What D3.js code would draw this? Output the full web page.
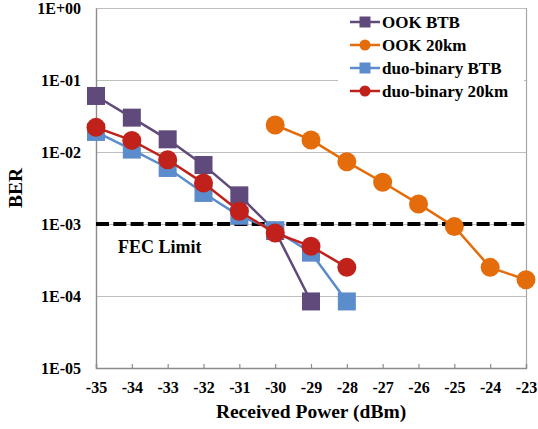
<!DOCTYPE html>
<html>
<head>
<meta charset="utf-8">
<script src="https://cdn.jsdelivr.net/npm/d3@7"></script>
<style>
  body { margin: 0; background: #fff; }
</style>
</head>
<body>
<svg width="538" height="429"></svg>
<script>
// data
var powers = [-35, -34, -33, -32, -31, -30, -29, -28, -27, -26, -25, -24, -23];
var ookBtbX = [-35, -34, -33, -32, -31, -30, -29];
var ookBtbY = [0.06, 0.03, 0.015, 0.0066, 0.0025, 0.0008, 8.4e-5];
var ook20X = [-30, -29, -28, -27, -26, -25, -24, -23];
var ook20Y = [0.0237, 0.0147, 0.0073, 0.0038, 0.0019, 0.00092, 0.00025, 0.000168];
var duoBtbX = [-35, -34, -33, -32, -31, -30, -29, -28];
var duoBtbY = [0.019, 0.0108, 0.006, 0.0027, 0.0013, 0.00082, 0.0004, 8.4e-5];
var duo20X = [-35, -34, -33, -32, -31, -30, -29, -28];
var duo20Y = [0.022, 0.0145, 0.0078, 0.0037, 0.0015, 0.00075, 0.00049, 0.00025];
var berTicks = [1, 1e-1, 1e-2, 1e-3, 1e-4, 1e-5];
var fecLimit = 1e-3;

var series = [
  {name: "OOK BTB", xs: ookBtbX, ys: ookBtbY, color: "#604a7b", shape: "square"},
  {name: "OOK 20km", xs: ook20X, ys: ook20Y, color: "#e46c0a", shape: "circle"},
  {name: "duo-binary BTB", xs: duoBtbX, ys: duoBtbY, color: "#5b8ccc", shape: "square"},
  {name: "duo-binary 20km", xs: duo20X, ys: duo20Y, color: "#c0221b", shape: "circle"}
];

var FONT = "'Liberation Serif', 'Times New Roman', serif";

var svg = d3.select("svg"),
    margin = {top: 8, right: 12, bottom: 61, left: 96},
    width = +svg.attr("width") - margin.left - margin.right,
    height = +svg.attr("height") - margin.top - margin.bottom;

var x = d3.scaleLinear().domain([-35, -23]).range([0, width]);
var y = d3.scaleLog().domain([1e-5, 1]).range([height, 0]);

var g = svg.append("g").attr("transform", "translate(" + margin.left + "," + margin.top + ")");

function fmt(v) {
  var e = Math.round(Math.log10(v));
  return "1E" + (e < 0 ? "-" : "+") + String(Math.abs(e)).padStart(2, "0");
}

// grid
g.selectAll(".grid").data(berTicks).enter().append("line")
    .attr("x1", 0).attr("x2", width)
    .attr("y1", function(d) { return Math.round(y(d)) + 0.5; })
    .attr("y2", function(d) { return Math.round(y(d)) + 0.5; })
    .attr("stroke", "#bdbdbd").attr("stroke-width", 1.2);

// frame right side
g.append("line").attr("x1", width + 0.5).attr("x2", width + 0.5).attr("y1", 0).attr("y2", height)
    .attr("stroke", "#a6a6a6").attr("stroke-width", 1.2);

// axes
var xAxis = g.append("g").attr("transform", "translate(0," + height + ")")
    .call(d3.axisBottom(x).tickValues(powers).tickSize(-4).tickPadding(14)
      .tickFormat(function(d) { return String(d); }));
xAxis.select(".domain").attr("stroke", "#8c8c8c").attr("stroke-width", 1.4);
xAxis.selectAll(".tick line").attr("stroke", "#8c8c8c").attr("stroke-width", 1.2);
xAxis.selectAll("text").style("font-family", FONT).style("font-weight", "bold")
    .style("font-size", "16px").attr("fill", "#000");

var yAxis = g.append("g")
    .call(d3.axisLeft(y).tickValues(berTicks).tickSize(0).tickPadding(15).tickFormat(fmt));
yAxis.select(".domain").attr("stroke", "#8c8c8c").attr("stroke-width", 1.4);
yAxis.selectAll("text").style("font-family", FONT).style("font-weight", "bold")
    .style("font-size", "16px").attr("fill", "#000");

// FEC limit
g.append("line")
    .attr("x1", 0).attr("x2", width)
    .attr("y1", y(fecLimit)).attr("y2", y(fecLimit))
    .attr("stroke", "#000").attr("stroke-width", 4).attr("stroke-dasharray", "13,4.3");
g.append("text").attr("x", 22).attr("y", y(fecLimit) + 29)
    .style("font-family", FONT).style("font-weight", "bold")
    .style("font-size", "18px").text("FEC Limit");

// series
var line = d3.line().x(function(d) { return x(d[0]); }).y(function(d) { return y(d[1]); });

series.forEach(function(s) {
  var pts = s.xs.map(function(v, i) { return [v, s.ys[i]]; });
  var sg = g.append("g");
  sg.append("path").datum(pts).attr("d", line)
      .attr("fill", "none").attr("stroke", s.color).attr("stroke-width", 2.5);
  if (s.shape === "square") {
    sg.selectAll("rect").data(pts).enter().append("rect")
        .attr("x", function(d) { return x(d[0]) - 9; })
        .attr("y", function(d) { return y(d[1]) - 9; })
        .attr("width", 18).attr("height", 18)
        .attr("fill", s.color);
  } else {
    sg.selectAll("circle").data(pts).enter().append("circle")
        .attr("cx", function(d) { return x(d[0]); })
        .attr("cy", function(d) { return y(d[1]); })
        .attr("r", 9.5)
        .attr("fill", s.color);
  }
});

// legend
var lg = svg.append("g").attr("transform", "translate(338,10)");
lg.append("rect").attr("x", 0).attr("y", 0).attr("width", 186).attr("height", 94).attr("fill", "#fff");
series.forEach(function(s, i) {
  var row = lg.append("g").attr("transform", "translate(0," + (12 + i * 23) + ")");
  row.append("line").attr("x1", 12).attr("x2", 42).attr("y1", 0).attr("y2", 0)
      .attr("stroke", s.color).attr("stroke-width", 2.5);
  if (s.shape === "square") {
    row.append("rect").attr("x", 21.5).attr("y", -5.5).attr("width", 11).attr("height", 11).attr("fill", s.color);
  } else {
    row.append("circle").attr("cx", 27).attr("cy", 0).attr("r", 5.5).attr("fill", s.color);
  }
  row.append("text").attr("x", 44).attr("y", 6)
      .style("font-family", FONT).style("font-weight", "bold")
      .style("font-size", "17px").text(s.name);
});

// axis titles
svg.append("text")
    .attr("x", margin.left + width / 2).attr("y", 418)
    .attr("text-anchor", "middle")
    .style("font-family", FONT).style("font-weight", "bold").style("font-size", "19.5px")
    .text("Received Power (dBm)");
svg.append("text")
    .attr("transform", "translate(22," + (margin.top + height / 2) + ") rotate(-90)")
    .attr("text-anchor", "middle")
    .style("font-family", FONT).style("font-weight", "bold").style("font-size", "19.5px")
    .text("BER");
</script>
</body>
</html>
